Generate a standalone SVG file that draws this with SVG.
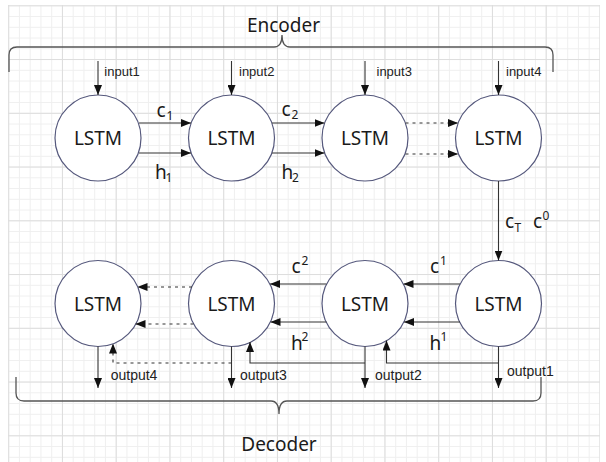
<svg xmlns="http://www.w3.org/2000/svg" width="606" height="462" viewBox="0 0 606 462">
<defs>
<pattern id="minor" x="8.2" y="5.3" width="10.75" height="10.75" patternUnits="userSpaceOnUse">
<path d="M0.5 0 V10.75 M0 0.5 H10.75" fill="none" stroke="#efefef" stroke-width="1"/>
</pattern>
<pattern id="major" x="8.2" y="5.3" width="53.75" height="53.75" patternUnits="userSpaceOnUse">
<path d="M0.5 0 V53.75 M0 0.5 H53.75" fill="none" stroke="#dddddd" stroke-width="1"/>
</pattern>
<marker id="arr" markerWidth="10" markerHeight="8" refX="10" refY="4" orient="auto" markerUnits="userSpaceOnUse">
<path d="M0,0 L10,4 L0,8 z" fill="#111"/>
</marker>
</defs>
<style>
.node circle{fill:#fff;stroke:#55587c;stroke-width:1.2}
.node text{font-family:"Noto Sans","Open Sans","DejaVu Sans",sans-serif;font-size:19px;fill:#1a1a1a;text-anchor:middle}
.ln{fill:none;stroke:#333;stroke-width:1.1}
.ar{marker-end:url(#arr)}
.dash{stroke-dasharray:3 4}
.brace{fill:none;stroke:#555;stroke-width:1.3}
.big{font-family:"Noto Sans","Open Sans","DejaVu Sans",sans-serif;font-size:19px;fill:#1a1a1a}
.sub{font-family:"Noto Sans","Open Sans","DejaVu Sans",sans-serif;font-size:12px;fill:#1a1a1a}
.io{font-family:"Liberation Sans",Arial,sans-serif;fill:#222}
</style>
<rect width="606" height="462" fill="#fff"/>
<rect x="8" y="5" width="592" height="457" fill="url(#minor)"/>
<rect x="8" y="5" width="592" height="457" fill="url(#major)"/>

<g id="braces">
<path class="brace" d="M9 72 V55 Q9 47 17 47 H274 Q282 47 282 35 Q282 47 290 47 H545 Q553 47 553 55 V72"/>
<path class="brace" d="M16 377 V393 Q16 401 24 401 H271 Q279 401 279 414 Q279 401 287 401 H533 Q541 401 541 393 V377"/>
<text class="big" x="283.5" y="31.5" text-anchor="middle">Encoder</text>
<text class="big" x="279" y="450.5" text-anchor="middle">Decoder</text>
</g>

<g id="enc1" class="node"><circle cx="98" cy="138" r="43"/><text x="98" y="145">LSTM</text></g>
<g id="enc2" class="node"><circle cx="231.5" cy="138" r="43"/><text x="231.5" y="145">LSTM</text></g>
<g id="enc3" class="node"><circle cx="365" cy="138" r="43"/><text x="365" y="145">LSTM</text></g>
<g id="enc4" class="node"><circle cx="498.5" cy="138" r="43"/><text x="498.5" y="145">LSTM</text></g>
<g id="dec1" class="node"><circle cx="98" cy="303.5" r="43"/><text x="98" y="310.5">LSTM</text></g>
<g id="dec2" class="node"><circle cx="231.5" cy="303.5" r="43"/><text x="231.5" y="310.5">LSTM</text></g>
<g id="dec3" class="node"><circle cx="365" cy="303.5" r="43"/><text x="365" y="310.5">LSTM</text></g>
<g id="dec4" class="node"><circle cx="498.5" cy="303.5" r="43"/><text x="498.5" y="310.5">LSTM</text></g>

<g id="connectors">
<path class="ln ar" d="M98 61 V95"/>
<path class="ln ar" d="M231.5 61 V95"/>
<path class="ln ar" d="M365 61 V95"/>
<path class="ln ar" d="M498.5 61 V95"/>

<path class="ln ar" d="M139 123 H191"/>
<path class="ln ar" d="M139 153 H191"/>
<path class="ln ar" d="M272 123 H324.5"/>
<path class="ln ar" d="M272 153 H324.5"/>
<path class="ln ar dash" d="M405.5 123 H458"/>
<path class="ln ar dash" d="M405.5 154 H458"/>

<path class="ln ar" d="M498.5 181 V260.5"/>

<path class="ln ar" d="M460 284 H403.5"/>
<path class="ln ar" d="M460 322 H404"/>
<path class="ln ar" d="M326.5 284 H270"/>
<path class="ln ar" d="M326.5 322 H270.5"/>
<path class="ln ar dash" d="M192 287 H137.5"/>
<path class="ln ar dash" d="M193.5 324 H135.5"/>

<path class="ln ar" d="M98 346.5 V388"/>
<path class="ln ar" d="M231.5 346.5 V388"/>
<path class="ln ar" d="M365 346.5 V388"/>
<path class="ln ar" d="M498.5 346.5 V388"/>

<path class="ln ar" d="M498.5 363 H386.5 V340.5"/>
<path class="ln ar" d="M365 363 H250 V342"/>
<path class="ln ar dash" d="M231.5 363 H113 V343.5"/>
</g>

<g id="labels">
<text class="io" font-size="13" x="104.3" y="76">input1</text>
<text class="io" font-size="13" x="239" y="76">input2</text>
<text class="io" font-size="13" x="376.5" y="76">input3</text>
<text class="io" font-size="13" x="506" y="76">input4</text>
<text class="io" font-size="14" x="110.7" y="380">output4</text>
<text class="io" font-size="14" x="240" y="380">output3</text>
<text class="io" font-size="14" x="375" y="380">output2</text>
<text class="io" font-size="14" x="507" y="375.5">output1</text>

<text class="big" x="156.5" y="116.5">c</text><text class="sub" x="166.5" y="119.5">1</text>
<text class="big" x="155" y="179">h</text><text class="sub" x="165.5" y="182">1</text>
<text class="big" x="281.5" y="116">c</text><text class="sub" x="291.5" y="119">2</text>
<text class="big" x="281.5" y="178.5">h</text><text class="sub" x="292" y="181.5">2</text>

<text class="big" x="505" y="228">c</text><text class="sub" x="514.5" y="231.5">T</text>
<text class="big" x="533" y="228">c</text><text class="sub" x="542.5" y="220">0</text>

<text class="big" x="430" y="273">c</text><text class="sub" x="440" y="265">1</text>
<text class="big" x="429.5" y="350">h</text><text class="sub" x="440.5" y="341">1</text>
<text class="big" x="291.5" y="273">c</text><text class="sub" x="301.5" y="265">2</text>
<text class="big" x="291" y="350">h</text><text class="sub" x="301.5" y="341">2</text>
</g>
</svg>
